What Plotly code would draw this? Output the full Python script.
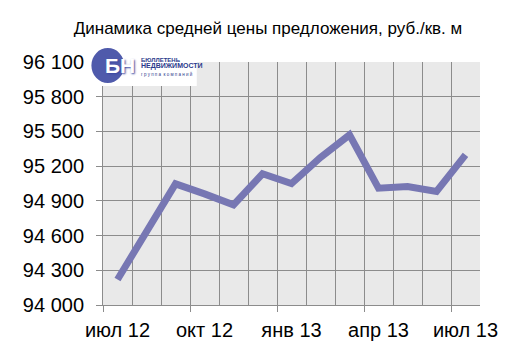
import plotly.graph_objects as go

months = ["июл 12", "авг 12", "сен 12", "окт 12", "ноя 12", "дек 12", "янв 13",
          "фев 13", "мар 13", "апр 13", "май 13", "июн 13", "июл 13"]
prices = [94220, 94635, 95047, 94960, 94866, 95134, 95050, 95275, 95470, 95010, 95024, 94981, 95297]
tick_idx = [0, 3, 6, 9, 12]
tick_labels = [months[i] for i in tick_idx]
y_ticks = [94000, 94300, 94600, 94900, 95200, 95500, 95800, 96100]

W, H = 510, 361
L, R, T, B = 103, 17, 62, 55.5
pw, ph = W - L - R, H - T - B

def px(x):
    return (x - L) / pw

def py(y):
    return (H - B - y) / ph

xs = list(range(len(months)))

fig = go.Figure()
fig.add_trace(go.Scatter(x=xs, y=prices, mode="lines",
                         line=dict(color="#7777b3", width=7),
                         hoverinfo="skip", showlegend=False))
# invisible trace to anchor secondary axis
fig.add_trace(go.Scatter(x=xs, y=prices, mode="lines", xaxis="x2",
                         line=dict(color="rgba(0,0,0,0)", width=0),
                         hoverinfo="skip", showlegend=False))

font = "Liberation Sans, Arial, sans-serif"
grid = "#8c8c8c"
rng = [-0.5, len(months) - 0.5]

fig.update_layout(
    width=W, height=H,
    margin=dict(l=L, r=R, t=T, b=B),
    paper_bgcolor="white",
    plot_bgcolor="#e9e9e9",
    separators=", ",
    font=dict(family=font, color="black"),
    title=dict(text="Динамика средней цены предложения, руб./кв. м",
               x=268 / W, xanchor="center", y=1 - 28 / H, yanchor="middle",
               font=dict(size=17, family=font, color="black")),
    xaxis=dict(range=rng, tickmode="array", tickvals=tick_idx, ticktext=tick_labels,
               ticks="", showgrid=False, zeroline=False, showline=False,
               tickfont=dict(size=20), ticklabelstandoff=11, ticklabeloverflow="allow",
               minor=dict(tickmode="array", tickvals=[i - 0.5 for i in range(len(months) + 1)],
                          showgrid=True, gridcolor=grid, gridwidth=1, ticks="")),
    xaxis2=dict(range=rng, overlaying="x", side="bottom", tickmode="array",
                tickvals=[i - 0.5 for i in tick_idx], ticks="outside", ticklen=6,
                tickcolor=grid, showticklabels=False, showgrid=False, zeroline=False,
                showline=True, linecolor=grid, anchor="y"),
    yaxis=dict(range=[94000, 96100], tickmode="array", tickvals=y_ticks,
               tickformat=",.0f", ticks="outside", ticklen=6, tickcolor=grid,
               showgrid=True, gridcolor=grid, gridwidth=1, zeroline=False,
               showline=True, linecolor=grid, tickfont=dict(size=20),
               ticklabelstandoff=8),
)

# logo block (decoration)
fig.add_shape(type="rect", xref="paper", yref="paper",
              x0=px(88), x1=px(200), y0=py(86), y1=py(44),
              fillcolor="white", line=dict(width=0), layer="above")
fig.add_shape(type="circle", xref="paper", yref="paper",
              x0=px(91), x1=px(125), y0=py(83), y1=py(48),
              fillcolor="#4f5aab", line=dict(width=0), layer="above")
fig.add_annotation(xref="paper", yref="paper", x=px(121), y=py(66), text="<b>БН</b>",
                   showarrow=False,
                   font=dict(size=21, color="white", family=font, shadow="1px 1px 2px #3b47a0"),
                   xanchor="center", yanchor="middle")
fig.add_annotation(xref="paper", yref="paper", x=px(140), y=py(60),
                   text="<b>БЮЛЛЕТЕНЬ</b>", showarrow=False, xanchor="left", yanchor="middle",
                   font=dict(size=6, color="#2b3a8c", family=font))
fig.add_annotation(xref="paper", yref="paper", x=px(140), y=py(66),
                   text="<b>НЕДВИЖИМОСТИ</b>", showarrow=False, xanchor="left", yanchor="middle",
                   font=dict(size=7, color="#2b3a8c", family=font))
fig.add_annotation(xref="paper", yref="paper", x=px(140), y=py(74),
                   text="г р у п п а  к о м п а н и й", showarrow=False, xanchor="left", yanchor="middle",
                   font=dict(size=4.5, color="#2b3a8c", family=font))

fig.write_html("out.html")
